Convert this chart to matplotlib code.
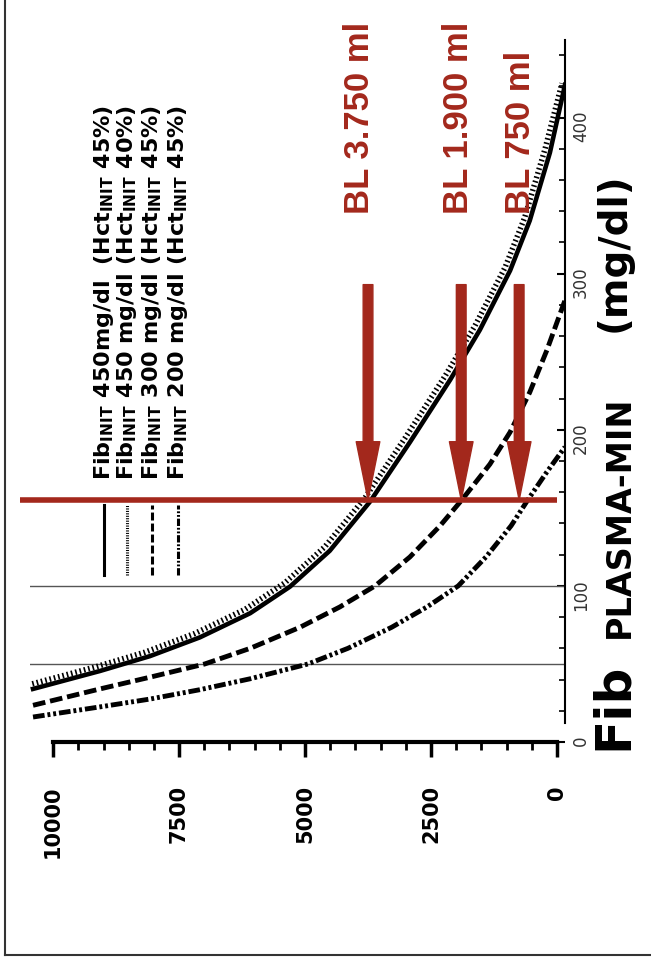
import matplotlib.pyplot as plt
from matplotlib.lines import Line2D

# minimal plasma fibrinogen (mg/dl) vs blood loss (ml)
fib_450_45 = [34, 45.5, 55, 67, 82.5, 99.5, 122.5, 154, 192, 232, 264, 302, 334, 377.5, 421]
bl_450_45 = [10400, 9070, 8080, 7090, 6090, 5300, 4510, 3710, 2920, 2120, 1530, 930, 540, 140, -160]

fib_450_40 = [36.5, 48, 57.5, 69.5, 85, 102, 125, 156.5, 194.5, 234.5, 266.5, 304, 336, 379.5, 422]
bl_450_40 = [10500, 9170, 8180, 7190, 6190, 5400, 4610, 3810, 3020, 2220, 1630, 1030, 640, 240, -100]

fib_300_45 = [23.5, 34, 41.5, 50, 60, 73.5, 86.5, 100, 118.5, 138.5, 155, 178, 198.5, 224, 251, 283]
bl_300_45 = [10400, 9070, 8080, 6990, 6090, 5100, 4310, 3610, 2920, 2320, 1890, 1330, 930, 540, 200, -160]

fib_200_45 = [16, 22.5, 27.5, 33.5, 40.5, 50, 60, 73.5, 86.5, 100, 118.5, 138.5, 155, 173, 189]
bl_200_45 = [10400, 9070, 8080, 7090, 6090, 4940, 4150, 3280, 2580, 1960, 1410, 910, 580, 200, -160]

bl_ticks = [10000, 7500, 5000, 2500, 0]
fib_ticks = [0, 100, 200, 300, 400]
fib_grid = [50, 100]
fib_cut = 155
bl_marks = [3750, 1900, 750]
bl_texts = ["BL 3.750 ml", "BL 1.900 ml", "BL 750 ml"]
legend_texts = [
    r"Fib$_{\mathbf{INIT}}$ 450mg/dl  (Hct$_{\mathbf{INIT}}$ 45%)",
    r"Fib$_{\mathbf{INIT}}$ 450 mg/dl (Hct$_{\mathbf{INIT}}$ 40%)",
    r"Fib$_{\mathbf{INIT}}$ 300 mg/dl (Hct$_{\mathbf{INIT}}$ 45%)",
    r"Fib$_{\mathbf{INIT}}$ 200 mg/dl (Hct$_{\mathbf{INIT}}$ 45%)",
]

red = "#a3281c"
styles = ["-", (0, (0.35, 0.45)), (0, (2.6, 1.0)), (0, (2.4, 0.6, 0.6, 0.6, 0.6, 0.6))]

plt.rcParams["mathtext.fontset"] = "dejavusans"

fig = plt.figure(figsize=(6.51, 9.65), dpi=100)
ax = fig.add_axes([30 / 651, 223 / 965, 535 / 651, 704 / 965])
ax.set_xlim(10460, -160)
ax.set_ylim(0, 451)

# reference lines
for f in fib_grid:
    ax.axhline(f, color="#555555", lw=1)

# curves
ax.plot(bl_450_40, fib_450_40, color="black", lw=4, ls=(0, (0.3, 0.5)))
ax.plot(bl_450_45, fib_450_45, color="black", lw=3.3, ls=styles[0])
ax.plot(bl_300_45, fib_300_45, color="black", lw=3.5, ls=styles[2])
ax.plot(bl_200_45, fib_200_45, color="black", lw=3.5, ls=styles[3])

# red cut line and arrows
ax.plot([10650, 0], [fib_cut, fib_cut], color=red, lw=4, clip_on=False, solid_capstyle="butt")
for bl, txt, dx in zip(bl_marks, bl_texts, [-6, -2, 1]):
    ax.annotate("", xy=(bl, fib_cut), xytext=(bl, 293),
                arrowprops=dict(arrowstyle="simple,head_length=42,head_width=17,tail_width=7",
                                color=red, shrinkA=0, shrinkB=0, mutation_scale=1))
    ax.annotate(txt, xy=(bl, 338), xytext=(dx, 0), textcoords="offset points",
                rotation=90, ha="center", va="bottom", color=red, fontsize=25,
                fontweight="bold", family="Liberation Sans")

# legend drawn by hand (rotated)
leg_x = [9000, 8530, 8030, 7530]
for xl, st, txt in zip(leg_x, styles, legend_texts):
    ax.plot([xl, xl], [107, 152], color="black", lw=2.2, ls=st)
    ax.text(xl, 168, txt, rotation=90, ha="center", va="bottom", fontsize=16,
            fontweight="bold", family="DejaVu Sans")

# axes styling
ax.spines["top"].set_visible(False)
ax.spines["left"].set_visible(False)
ax.spines["bottom"].set_bounds(0, 10000)
ax.spines["bottom"].set_linewidth(3)
ax.spines["right"].set_bounds(12, 450)
ax.spines["right"].set_linewidth(1.5)

ax.set_xticks(bl_ticks)
ax.set_xticks(range(0, 10001, 500), minor=True)
ax.tick_params(axis="x", which="major", direction="out", length=11, width=2.5, pad=20,
               labelsize=15, labelrotation=90)
ax.tick_params(axis="x", which="minor", direction="out", length=6, width=2)
for lab in ax.get_xticklabels():
    lab.set_fontweight("bold")

ax.yaxis.tick_right()
ax.set_yticks(fib_ticks)
ax.set_yticks(range(20, 441, 20), minor=True)
ax.tick_params(axis="y", which="major", direction="in", length=6, width=1.5, pad=5,
               labelsize=12, labelrotation=90, labelcolor="#333333")
ax.tick_params(axis="y", which="minor", direction="in", length=4, width=1.2)

# axis title, rotated
fig.text(613 / 651, 1 - 750 / 965, "Fib", rotation=90, ha="center", va="bottom",
         fontsize=36, fontweight="bold")
fig.text(619 / 651, 1 - 517 / 965, "PLASMA-MIN", rotation=90, ha="center", va="center",
         fontsize=24, fontweight="bold")
fig.text(614 / 651, 1 - 252 / 965, "(mg/dl)", rotation=90, ha="center", va="center",
         fontsize=28, fontweight="bold")

# outer frame (cut at top and right)
fig.add_artist(Line2D([5 / 651, 5 / 651], [10 / 965, 1], transform=fig.transFigure,
                      color="#333333", lw=1.5))
fig.add_artist(Line2D([5 / 651, 1], [10 / 965, 10 / 965], transform=fig.transFigure,
                      color="#333333", lw=1.5))

fig.savefig("out.png", dpi=100)
